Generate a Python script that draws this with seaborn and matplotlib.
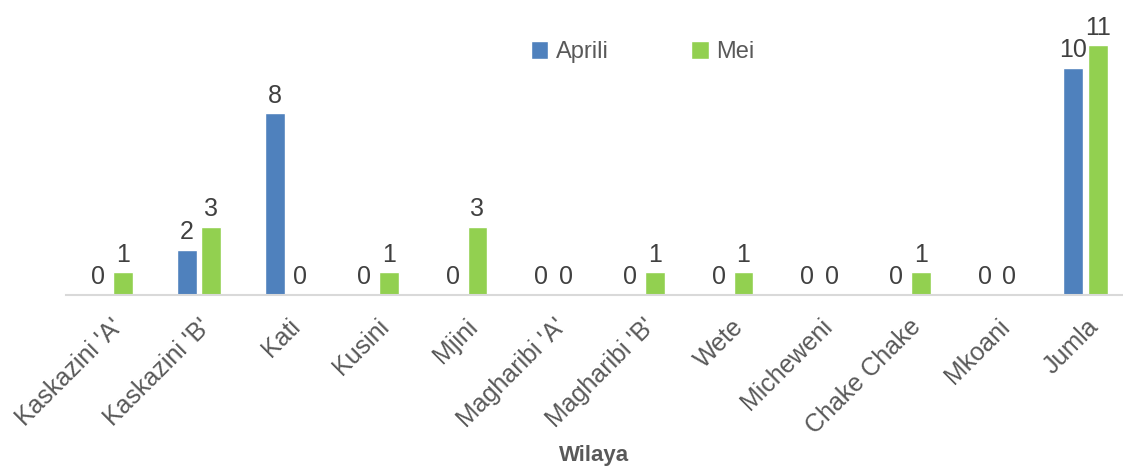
"""Idadi ya matukio kwa wilaya, Aprili na Mei."""

import matplotlib.pyplot as plt
import pandas as pd
import seaborn as sns

wilaya = [
    "Kaskazini 'A'", "Kaskazini 'B'", "Kati", "Kusini", "Mjini", "Magharibi 'A'",
    "Magharibi 'B'", "Wete", "Micheweni", "Chake Chake", "Mkoani", "Jumla",
]
aprili = [0, 2, 8, 0, 0, 0, 0, 0, 0, 0, 0, 10]
mei = [1, 3, 0, 1, 3, 0, 1, 1, 0, 1, 0, 11]

BLUE = "#4f81bd"
GREEN = "#92d050"
GREY = "#595959"

df = pd.DataFrame({"Wilaya": wilaya * 2,
                   "Mwezi": ["Aprili"] * len(wilaya) + ["Mei"] * len(wilaya),
                   "Idadi": aprili + mei})

sns.set_theme(style="white")
plt.rcParams["font.family"] = ["Liberation Sans Narrow", "Liberation Sans", "DejaVu Sans"]

fig = plt.figure(figsize=(11.23, 4.75), dpi=100)
ax = fig.add_axes([66 / 1123, 180 / 475, 1 - 66 / 1123, 0.574])

sns.barplot(data=df, x="Wilaya", y="Idadi", hue="Mwezi", palette=[BLUE, GREEN],
            saturation=1, width=0.56, gap=0.2, ax=ax, legend=True)

for cont in ax.containers:
    ax.bar_label(cont, fmt="%d", padding=4, fontsize=18, color="#404040")

ax.set_ylim(0, 12)
ax.set_xlim(-0.5, 11.42)
ax.set_yticks([])
ax.set_ylabel("")
for s in ["top", "right", "left"]:
    ax.spines[s].set_visible(False)
ax.spines["bottom"].set_color("#d9d9d9")
ax.spines["bottom"].set_linewidth(1.5)

ax.tick_params(axis="x", length=0, pad=14)
plt.setp(ax.get_xticklabels(), rotation=45, ha="right", rotation_mode="anchor",
         fontsize=18, color=GREY)
ax.set_xlabel("Wilaya", fontsize=16, fontweight="bold", color=GREY, labelpad=5)

ax.legend(loc="center", bbox_to_anchor=(0.572, 0.89), bbox_transform=fig.transFigure,
          ncol=2, frameon=False, fontsize=17, handlelength=0.75, handleheight=0.75,
          handletextpad=0.3, columnspacing=3.5, labelcolor=GREY)

fig.savefig("out.png", dpi=100)
